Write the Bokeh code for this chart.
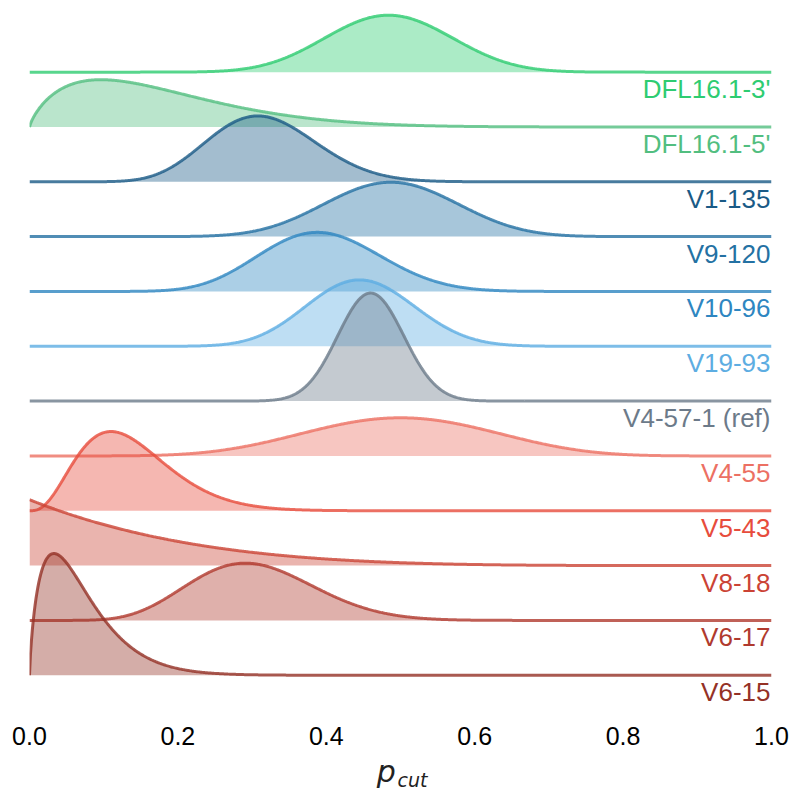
import math
import numpy as np
from bokeh.plotting import figure
from bokeh.models import FixedTicker, LinearAxis
from bokeh.core.properties import value
from bokeh.embed import file_html
from bokeh.resources import INLINE

# ---- data ----
labels = ["DFL16.1-3'", "DFL16.1-5'", "V1-135", "V9-120", "V10-96", "V19-93",
          "V4-57-1 (ref)", "V4-55", "V5-43", "V8-18", "V6-17", "V6-15"]
# beta-distribution shape parameters of each p_cut density
alpha_params = [17.4, 1.8, 13.0, 16.0, 14.5, 21.5, 58.6, 8.2, 3.9, 1.0, 9.2, 1.77]
beta_params = [18.5, 8.5, 28.0, 16.8, 22.3, 26.6, 68.7, 8.2, 24.5, 5.5, 21.0, 23.6]
colors = ["#2ecc71", "#52be80", "#1a5a86", "#2471a3", "#2e86c1", "#5dade2",
          "#6c7a89", "#ec7063", "#e74c3c", "#cb4335", "#b03a2e", "#943126"]
tick_values = [0.0, 0.2, 0.4, 0.6, 0.8, 1.0]
tick_labels = ["0.0", "0.2", "0.4", "0.6", "0.8", "1.0"]

SCALE = 0.2186  # ridge height (in row units) per unit of density


def beta_pdf(x, a, b):
    lb = math.lgamma(a) + math.lgamma(b) - math.lgamma(a + b)
    y = np.exp((a - 1) * np.log(np.clip(x, 1e-12, 1)) + (b - 1) * np.log(np.clip(1 - x, 1e-12, 1)) - lb)
    if a > 1:
        y[x <= 0] = 0.0
    if b > 1:
        y[x >= 1] = 0.0
    return y


n = len(labels)
xs = np.linspace(0, 1, 801)

p = figure(width=791, height=793, x_range=(0, 1), y_range=(-0.625, 12.124),
           output_backend="svg", toolbar_location=None,
           min_border_left=29, min_border_right=20, min_border_top=10, min_border_bottom=83)
p.outline_line_color = None
p.grid.visible = False
p.yaxis.visible = False
p.background_fill_color = "white"
p.border_fill_color = "white"

for i, (lab, a, b, c) in enumerate(zip(labels, alpha_params, beta_params, colors)):
    base = n - 1 - i
    dens = beta_pdf(xs, a, b)
    top = base + SCALE * dens
    p.varea(x=xs, y1=np.full_like(xs, base), y2=top, fill_color=c, fill_alpha=0.4)
    p.line(x=xs, y=top, line_color=c, line_width=3, line_alpha=0.8)
    p.text(x=[1.0], y=[base], text=[lab], text_color=c, text_align="right",
           text_baseline="top", y_offset=2, x_offset=-1,
           text_font=value("Liberation Sans"), text_font_size="26px")

ax = p.xaxis[0]
ax.ticker = FixedTicker(ticks=tick_values)
ax.major_label_overrides = {v: t for v, t in zip(tick_values, tick_labels)}
ax.axis_line_color = None
ax.major_tick_line_color = None
ax.minor_tick_line_color = None
ax.major_tick_out = 0
ax.major_tick_in = 0
ax.major_label_standoff = 17
ax.major_label_text_font = "Liberation Sans"
ax.major_label_text_font_size = "25px"
ax.major_label_text_color = "black"
ax.axis_label = "p\u00a0\u00a0\u00a0"
ax.axis_label_standoff = 6
ax.axis_label_text_font = "DejaVu Sans"
ax.axis_label_text_font_style = "italic"
ax.axis_label_text_font_size = "30px"
ax.axis_label_text_color = "#222222"

# subscript "cut" of the axis title, carried by a second (tick-less) bottom axis
sub_ax = LinearAxis(ticker=FixedTicker(ticks=[]), axis_line_color=None,
                    major_tick_line_color=None, minor_tick_line_color=None,
                    major_tick_out=0, major_tick_in=0, minor_tick_out=0,
                    major_label_text_font_size="0px", major_label_standoff=0,
                    axis_label="\u00a0\u00a0\u00a0\u00a0cut", axis_label_standoff=-23,
                    axis_label_text_font="DejaVu Sans", axis_label_text_font_style="italic",
                    axis_label_text_font_size="19px", axis_label_text_color="#222222")
p.add_layout(sub_ax, "below")

open("out.html", "w").write(file_html(p, INLINE))
